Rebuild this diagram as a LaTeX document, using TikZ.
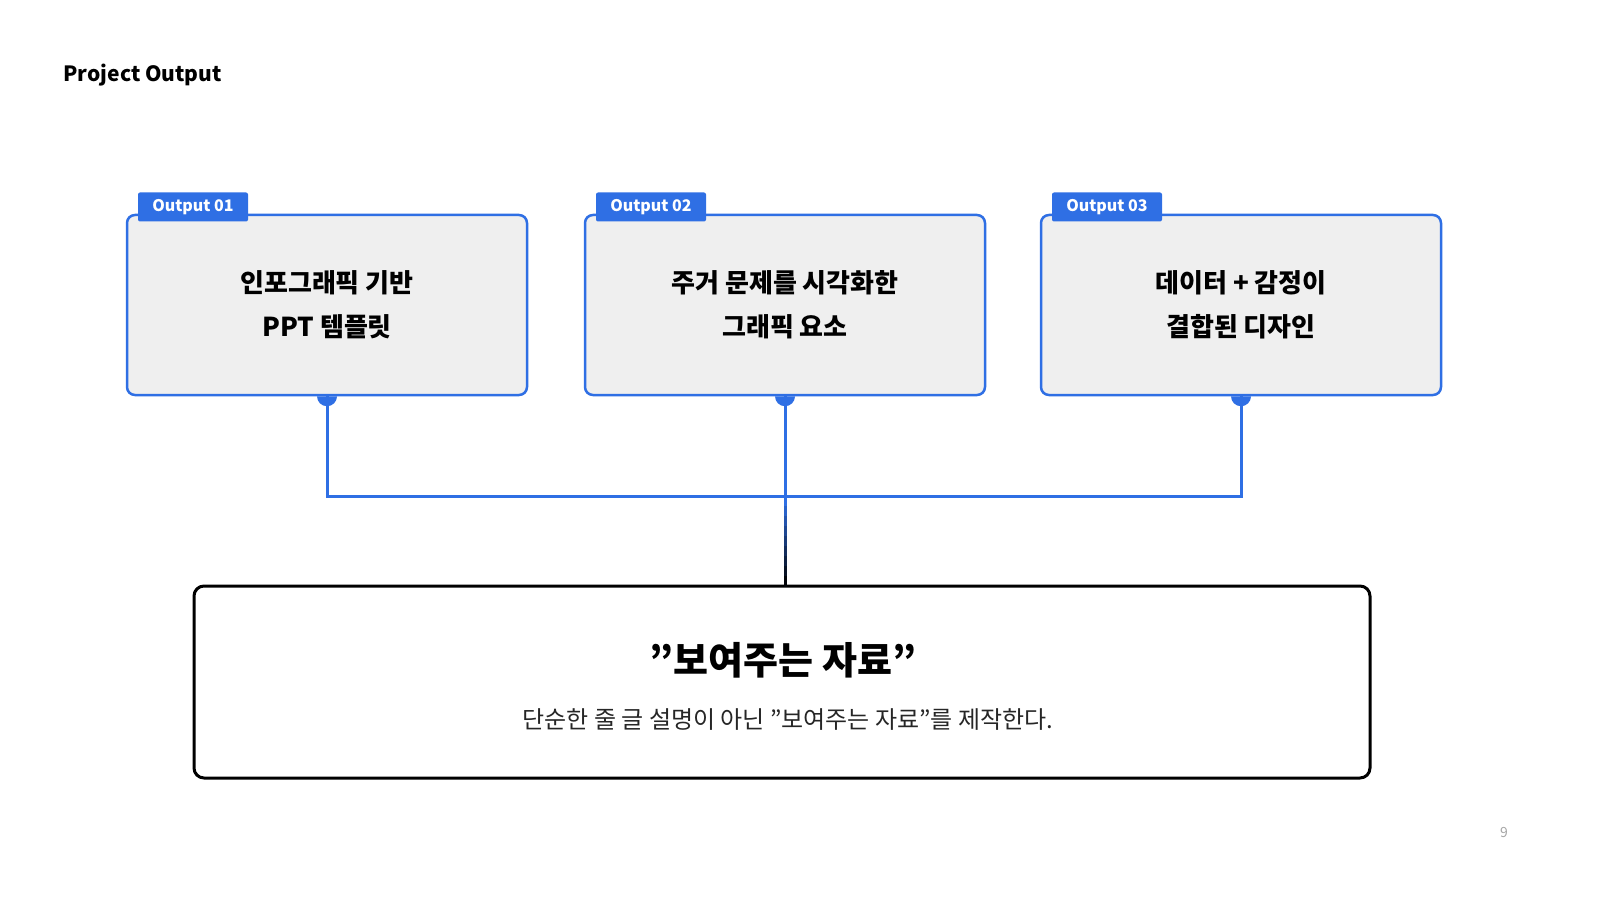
\documentclass[tikz,border=0pt]{standalone}
\usepackage{fontspec}
\usetikzlibrary{calc}
\setmainfont{Noto Sans CJK KR}
\definecolor{bl}{HTML}{2F6FE4}
\definecolor{gb}{HTML}{EFEFEF}
\newcommand{\dq}{\symbol{34}}
\begin{document}
\begin{tikzpicture}[x=1pt,y=-1pt,
  card/.style={draw=bl,line width=2.5pt,fill=gb,rounded corners=8pt,minimum width=400pt,minimum height=180pt,inner sep=0pt,align=center,font=\fontsize{26}{44}\selectfont\bfseries},
  tab/.style={fill=bl,rounded corners=2pt,minimum width=110pt,minimum height=29pt,inner sep=0pt,text=white,font=\fontsize{16}{18}\selectfont\bfseries},
  wire/.style={draw=bl,line width=3pt}]
\useasboundingbox (0,0) rectangle (1600,901);
\node[anchor=west,font=\fontsize{21}{24}\selectfont\bfseries] (t) at (60,75) {Project Output};
\node[text=gray!70,font=\fontsize{14}{16}\selectfont] (p) at (1504,833) {9};
\foreach \i/\x/\l in {1/327/{인포그래픽 기반\\PPT 템플릿},2/785/{주거 문제를 시각화한\\그래픽 요소},3/1241/{데이터 + 감정이\\결합된 디자인}}{
  \node[card] (c\i) at (\x,305) {\l};
  \node[tab] (t\i) at (\x-134,207) {Output 0\i};
  \fill[bl] ([xshift=-10pt]c\i.south) arc[start angle=180,end angle=360,radius=10pt] -- cycle;
}
\node[draw=black,line width=3pt,rounded corners=10pt,minimum width=1176pt,minimum height=192pt] (b) at (782,682) {};
\node[font=\fontsize{38}{44}\selectfont\bfseries] (bt) at (783,660) {\dq 보여주는 자료\dq};
\node[font=\fontsize{24}{28}\selectfont,text=black!85] (bs) at (788,720) {단순한 줄 글 설명이 아닌 \dq 보여주는 자료\dq 를 제작한다.};
\coordinate (j) at (c2.south |- 0,496);
\draw[wire] (c1.south) |- (j) -| (c3.south);
\draw[wire] (c2.south) -- (j);
\foreach \k in {0,...,8}{
  \pgfmathsetmacro{\m}{\k*12}
  \draw[line width=3pt,draw=black!\m!bl] ($(j)+(0,\k*10)$) -- ($(j)+(0,\k*10+10.5)$);
}
\end{tikzpicture}
\end{document}
